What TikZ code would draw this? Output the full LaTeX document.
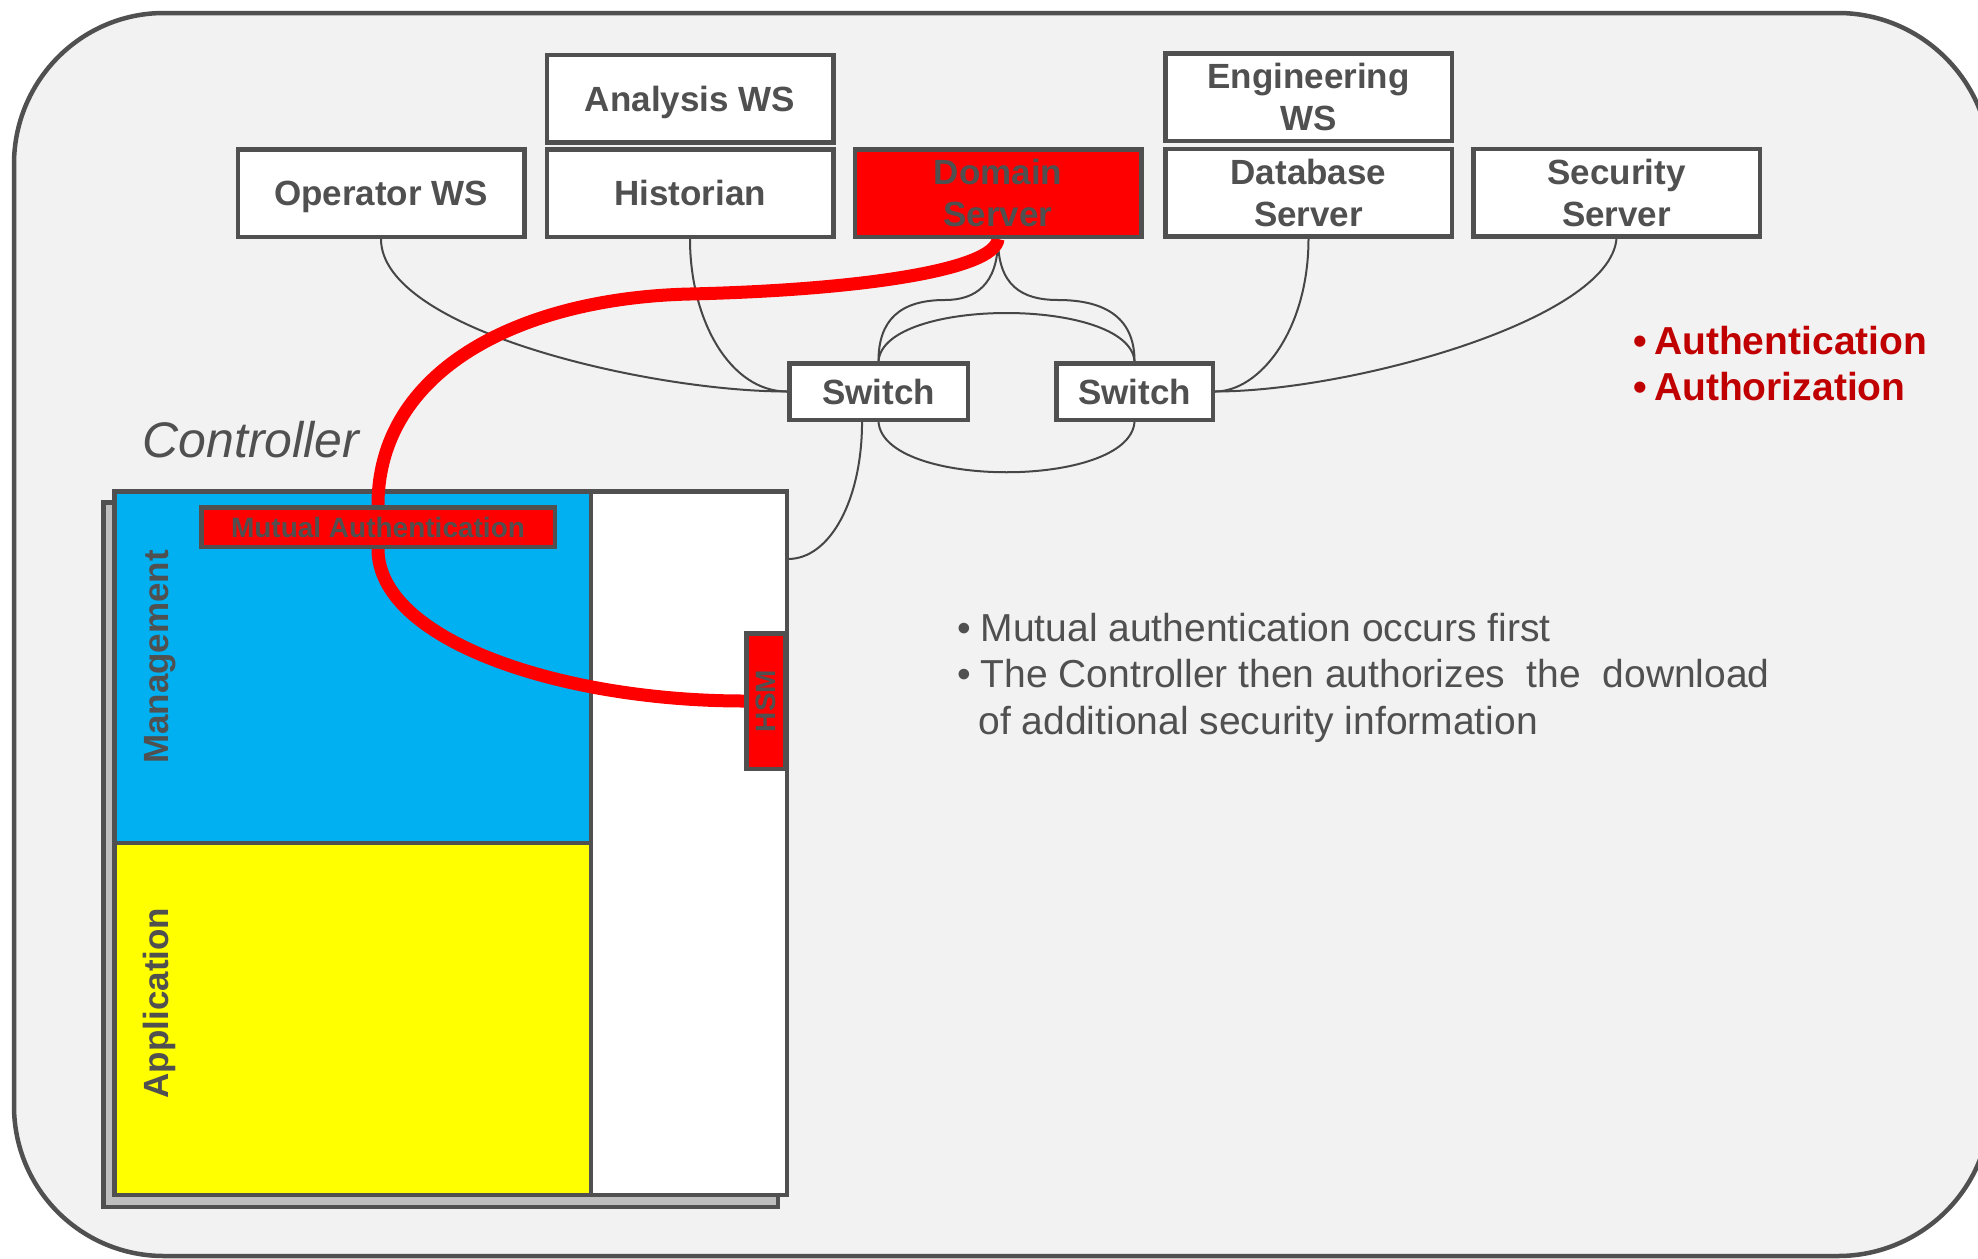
\documentclass[tikz,border=0pt]{standalone}
\usepackage{fontspec}
\setmainfont{Liberation Sans}
\usetikzlibrary{calc}

\definecolor{dgray}{RGB}{80,80,80}
\definecolor{wirec}{RGB}{70,70,70}
\definecolor{panel}{RGB}{242,242,242}
\definecolor{mgmt}{RGB}{0,176,240}
\definecolor{appl}{RGB}{255,255,0}
\definecolor{shade}{RGB}{190,190,190}
\definecolor{alert}{RGB}{255,0,0}
\definecolor{legendred}{RGB}{192,0,0}

\pgfdeclarelayer{back}
\pgfdeclarelayer{body}
\pgfdeclarelayer{link}
\pgfsetlayers{back,body,link,main}

\begin{document}
\begin{tikzpicture}[x=1pt,y=-1pt,
  hostbox/.style={draw=dgray, line width=4.5pt, fill=white,
    minimum width=286.5pt, minimum height=87.5pt, inner sep=0pt,
    align=center, text=dgray, font=\bfseries\fontsize{35}{42}\selectfont},
  oneline/.style={text depth=0pt},
  switchbox/.style={draw=dgray, line width=4.5pt, fill=white,
    minimum height=56.5pt, inner sep=0pt, text=dgray,
    font=\bfseries\fontsize{35}{42}\selectfont},
  redtag/.style={draw=dgray, line width=4.5pt, fill=alert, inner sep=0pt,
    text=dgray, font=\bfseries\fontsize{28}{34}\selectfont},
  layer/.style={draw=dgray, line width=4.5pt},
  wire/.style={draw=wirec, line width=2pt},
  redline/.style={draw=alert, line width=13pt},
  sidelabel/.style={rotate=90, anchor=base, text=dgray,
    font=\bfseries\fontsize{35}{42}\selectfont},
  legend/.style={anchor=base west, text=legendred,
    font=\bfseries\fontsize{39}{46}\selectfont},
  note/.style={anchor=base west, text=dgray, font=\fontsize{39}{47}\selectfont}]

\useasboundingbox (0,0) rectangle (1978,1258);

% ---------- network hosts ----------
\node[hostbox, oneline] (ana) at (690,98.5) {Analysis WS};
\node[hostbox, oneline] (opr) at (381,193) {Operator WS};
\node[hostbox, oneline] (his) at (690,193) {Historian};
\node[hostbox, fill=alert] (dom) at (998,193) {Domain\\Server};
\node[hostbox] (eng) at (1308.5,97) {Engineering\\WS};
\node[hostbox] (dbs) at (1308.5,192.5) {Database\\Server};
\node[hostbox] (sec) at (1616.5,192.5) {Security\\Server};

\node[switchbox, minimum width=178.5pt] (sw1) at (878.5,391.5) {Switch};
\node[switchbox, minimum width=156.5pt] (sw2) at (1134.5,391.5) {Switch};

% ---------- controller ----------
\node[anchor=base west, text=dgray, font=\itshape\fontsize{50}{60}\selectfont]
  (ctllabel) at (139,457) {Controller};
\coordinate (ctlport) at (788,559);

\begin{pgfonlayer}{body}
  \draw[layer, fill=shade] (103.25,502.25) rectangle (777.75,1206.75);
  \draw[layer, fill=white] (114.25,491.25) rectangle (786.75,1194.75);
  \draw[layer, fill=mgmt] (114.25,491.25) rectangle (591,843);
  \draw[layer, fill=appl] (114.25,843) rectangle (591,1194.75);
\end{pgfonlayer}

\node[sidelabel] (mgmtlabel) at (168,657) {Management};
\node[sidelabel] (appllabel) at (168,1003) {Application};

\node[redtag, minimum width=353.5pt, minimum height=39.5pt] (mut) at (378,527)
  {Mutual Authentication};
\node[redtag, minimum width=38.5pt, minimum height=135.5pt] (hsm) at (765.5,701) {};
\node[rotate=90, text=dgray, font=\bfseries\fontsize{28}{34}\selectfont]
  (hsmtext) at (hsm.center) {HSM};

% ---------- legend and notes ----------
\node[legend] (leg1) at (1630,354) {\textbullet\hspace{7pt}Authentication};
\node[legend] (leg2) at (1630,400) {\textbullet\hspace{7pt}Authorization};

\node[note] (note1) at (954,641) {\textbullet\hspace{9.5pt}Mutual authentication occurs first};
\node[note] (note2) at (954,687) {\textbullet\hspace{9.5pt}The Controller then authorizes\ \ the\ \ download};
\node[note] (note3) at (975,734) {of additional security information};

% ---------- panel and thin network links ----------
\begin{pgfonlayer}{back}
  \fill[white] (0,0) rectangle (1978,1258);
  \path[fill=panel, draw=dgray, line width=4.5pt]
    (14,164) .. controls (14,81) and (81,13) .. (164,13)
    -- (1838,13) .. controls (1921,13) and (1990,81) .. (1990,164)
    -- (1990,1106) .. controls (1990,1189) and (1921,1256) .. (1838,1256)
    -- (164,1256) .. controls (81,1256) and (14,1189) .. (14,1106) -- cycle;

  \draw[wire] (opr.south) .. controls (381,330) and (650,391.5) .. (sw1.west);
  \draw[wire] (his.south) .. controls (690,320) and (730,391.5) .. (sw1.west);
  \draw[wire] (dom.south) .. controls (998,285) and (975,300) .. (945,300)
              .. controls (900,300) and (878.5,320) .. (sw1.north);
  \draw[wire] (dom.south) .. controls (998,285) and (1021,300) .. (1058,300)
              .. controls (1108,300) and (1134.5,320) .. (sw2.north);
  \draw[wire] (sw1.north) .. controls (884,297) and (1129,297) .. (sw2.north);
  \draw[wire] (sw1.south) .. controls (884,489) and (1129,489) .. (sw2.south);
  \draw[wire] ($(sw1.south west)!0.41!(sw1.south east)$)
              .. controls (862,500) and (830,559) .. (ctlport);
  \draw[wire] (dbs.south) .. controls (1308.5,330) and (1260,391.5) .. (sw2.east);
  \draw[wire] (sec.south) .. controls (1610,320) and (1350,391.5) .. (sw2.east);
\end{pgfonlayer}

% ---------- secure channel ----------
\begin{pgfonlayer}{link}
  \draw[redline] (dom.south) .. controls (995,270) and (860,290) .. (690,294)
                 .. controls (520,298) and (378,370) .. (mut.north);
  \draw[redline] (mut.south) .. controls (378,640) and (560,701) .. (hsm.west);
\end{pgfonlayer}

\end{tikzpicture}
\end{document}
